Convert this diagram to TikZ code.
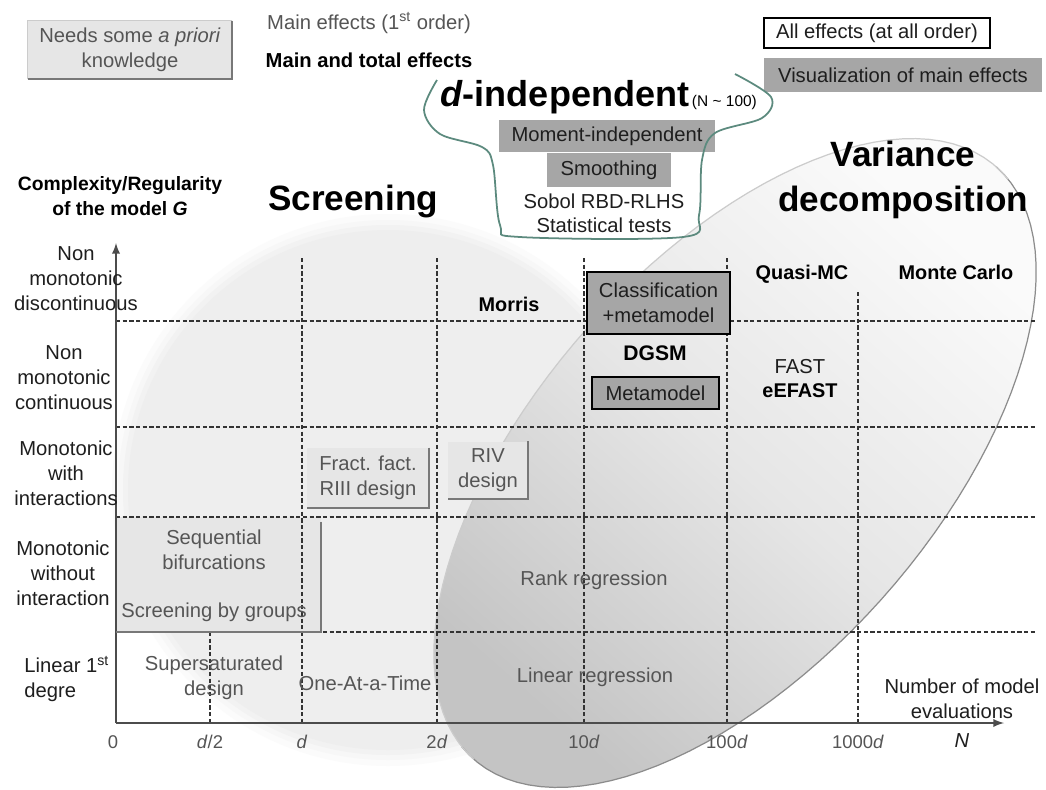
\documentclass[tikz,border=0pt]{standalone}
\usepackage{fontspec}
\setmainfont{Liberation Sans}
\usetikzlibrary{calc, positioning}

\definecolor{txtgray}{RGB}{85,85,85}
\definecolor{darktxt}{RGB}{30,30,30}
\definecolor{lightbox}{RGB}{230,230,230}
\definecolor{blobgray}{RGB}{238,238,238}
\definecolor{midgray}{RGB}{166,166,166}
\definecolor{shadowgray}{RGB}{120,120,120}
\definecolor{dindep}{RGB}{92,138,126}
\definecolor{ellA}{RGB}{196,196,196}
\definecolor{ellB}{RGB}{230,230,230}
\definecolor{ellC}{RGB}{250,250,250}

\begin{document}
\begin{tikzpicture}[x=0.02cm, y=-0.02cm,
		declare function={ex(\t)=735+395*cos(\t)*cos(48.6)+200*sin(\t)*sin(48.6);
			ey(\t)=463-395*cos(\t)*sin(48.6)+200*sin(\t)*cos(48.6);},
		txt/.style={inner sep=0pt, align=center, text=darktxt, font={\fontsize{11.5}{14.2}\selectfont}},
		soft/.style={txt, text=txtgray},
		heavy/.style={txt, text=black, font={\fontsize{11.3}{14.2}\selectfont\bfseries}},
		title/.style={txt, text=black, font={\fontsize{20}{25.5}\selectfont\bfseries}},
		ticklab/.style={txt, text=txtgray, anchor=base, font={\fontsize{10.5}{12}\selectfont}},
		graybox/.style={txt, fill=midgray},
		apriori/.style={soft, fill=lightbox},
		shadowline/.style={shadowgray, line width=1.3pt},
		gridline/.style={black!80, line width=0.6pt, dash pattern=on 2.4pt off 1.4pt},
		axisline/.style={black!70, line width=1.1pt}]
	\useasboundingbox (0,0) rectangle (1046,789);
	\fill[white] (0,0) rectangle (1046,789);
	% screening area
	\foreach \r/\c in {276/25,270/50,265/75,260/100}
		\fill[blobgray!\c!white] (388,490) ellipse [x radius=\r, y radius=\r];
	% variance decomposition area
	\shade[top color=ellC, bottom color=ellA, middle color=ellB, shading angle=-41.4]
		plot[domain=0:360, samples=120, variable=\t] ({ex(\t)},{ey(\t)}) -- cycle;
	\draw[black!45, line width=0.7pt]
		plot[domain=0:185, samples=60, variable=\t] ({ex(\t)},{ey(\t)});
	\draw[black!20, line width=0.7pt]
		plot[domain=180:365, samples=60, variable=\t] ({ex(\t)},{ey(\t)});
	% a priori boxes
	\node[apriori, minimum width=4.1cm, minimum height=2.3cm] (seqbox) at (218.5,574.5) {};
	\node[apriori, minimum width=2.44cm, minimum height=1.2cm] (fract) at (368,478) {Fract. fact.\\RIII design};
	\node[apriori, minimum width=1.6cm, minimum height=1.14cm] (riv) at (488,470) {RIV\\design};
	% grid
	\foreach \yy in {321,427,517,632}
		\draw[gridline] (116,\yy) -- (1035,\yy);
	\foreach \xx/\ys in {210/632,302/258,437/258,584/258,727/258,858/292}
		\draw[gridline] (\xx,\ys) -- (\xx,723);
	% axes
	\coordinate (origin) at (116,723);
	\coordinate (ytop) at (116,243);
	\coordinate (xend) at (1004,723);
	\draw[axisline,-latex] (origin) -- (ytop);
	\draw[axisline,-latex] (origin) -- (xend);
	\foreach \xx/\lab [count=\i] in {113/0,210/{\textit{d}/2},302/\textit{d},437/2\textit{d},584/10\textit{d},727/100\textit{d},858/1000\textit{d}}
		\node[ticklab] (tick\i) at (\xx,748) {\lab};
	\node[txt] (nlab) at (962,741) {\textit{N}};
	\node[txt] (evals) at (962,699) {Number of model\\evaluations};
	% legend
	\node[apriori, minimum width=4.08cm, minimum height=1.16cm] (needs) at (130,50) {Needs some \textit{a priori}\\knowledge};
	\draw[black!20, line width=0.5pt] (needs.south west) -- (needs.north west) -- (needs.north east);
	\draw[shadowline] (needs.north east) -- (needs.south east) -- (needs.south west);
	\node[soft, anchor=base] (mainfx) at (369,29) {Main effects (1\textsuperscript{st} order)};
	\node[heavy, anchor=base, font={\fontsize{11.5}{13}\selectfont\bfseries}] (totalfx) at (369,67) {Main and total effects};
	\node[txt, draw=black, line width=1.2pt, minimum width=4.52cm, minimum height=0.6cm] (allfx) at (877,33) {All effects (at all order)};
	\node[graybox, minimum width=5.56cm, minimum height=0.68cm] (visfx) at (903,75) {Visualization of main effects};
	% d-independent group
	\node[anchor=base west, inner sep=0pt] (dind) at (440,106)
		{{\fontsize{20.5}{24}\selectfont\bfseries\textit{d}-independent}\,{\fontsize{8.8}{10}\selectfont(N \textasciitilde\ 100)}};
	\node[graybox, minimum width=4.32cm, minimum height=0.64cm] (moment) at (607,136) {Moment-independent};
	\node[graybox, minimum width=2.48cm, minimum height=0.68cm] (smooth) at (609,170) {Smoothing};
	\node[txt, anchor=base] (sobol) at (604,208) {Sobol RBD-RLHS};
	\node[txt, anchor=base] (stat) at (604,232) {Statistical tests};
	\draw[dindep, line width=1pt] plot[smooth, tension=0.55] coordinates
		{(735,74) (771,97) (762,118) (715,133) (702,160) (699,215) (683,237) (520,237) (500,225) (493,165) (482,147) (440,134) (424,110) (437,80)};
	% titles
	\node[title, anchor=base] (screen) at (353,210) {Screening};
	\node[title] (vardec) at (903,180) {Variance\\decomposition};
	\node[heavy, font={\fontsize{11}{14.2}\selectfont\bfseries}] (complex) at (120,196) {Complexity/Regularity\\of the model \textit{G}};
	% rows
	\node[txt] (row1) at (76,279) {Non\\monotonic\\discontinuous};
	\node[txt] (row2) at (64,378) {Non\\monotonic\\continuous};
	\node[txt] (row3) at (66,473) {Monotonic\\with\\interactions};
	\node[txt] (row4) at (63,573) {Monotonic\\without\\interaction};
	\node[txt, align=left, anchor=west] (row5) at (24,679) {Linear 1\textsuperscript{st}\\degre};
	% methods
	\node[soft] (seqbif) at (214,550) {Sequential\\bifurcations};
	\node[soft] (groups) at (214,612) {Screening by groups};
	\node[soft] (superd) at (214,678) {Supersaturated\\design};
	\node[soft] (oat) at (365,683) {One-At-a-Time};
	\node[soft] (rankreg) at (594,580) {Rank regression};
	\node[soft] (linreg) at (595,677) {Linear regression};
	\node[heavy, anchor=base] (morris) at (509,311) {Morris};
	\node[graybox, draw=black, line width=1.4pt, minimum width=2.86cm, minimum height=1.24cm] (classif) at (658.5,303) {Classification\\+metamodel};
	\node[heavy, anchor=base, font={\fontsize{12}{14}\selectfont\bfseries}] (dgsm) at (655,360) {DGSM};
	\node[graybox, draw=black, line width=1.4pt, minimum width=2.54cm, minimum height=0.64cm] (meta) at (655.5,393) {Metamodel};
	\node[heavy, anchor=base] (qmc) at (802,279) {Quasi-MC};
	\node[heavy, anchor=base] (mc) at (956,279) {Monte Carlo};
	\node[txt, anchor=base] (fast) at (800,373) {FAST};
	\node[heavy, anchor=base] (eefast) at (800,397) {eEFAST};
	% box shadows
	\draw[shadowline] ($(seqbox.north east)+(0,5)$) -- (seqbox.south east) -- (seqbox.south west);
	\draw[shadowline] (fract.north east) -- (fract.south east) -- (fract.south west);
	\draw[shadowline] (riv.north east) -- (riv.south east) -- (riv.south west);
\end{tikzpicture}
\end{document}
